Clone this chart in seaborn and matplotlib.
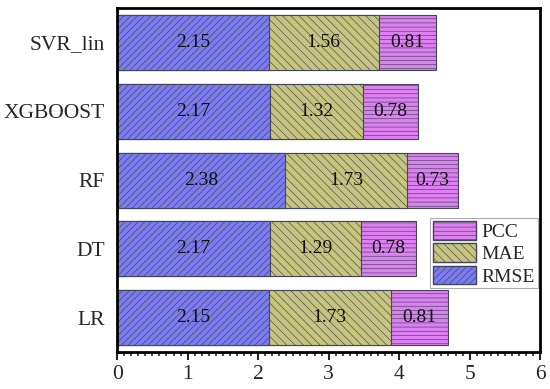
import numpy as np
import pandas as pd
import matplotlib
matplotlib.use("Agg")
import matplotlib.pyplot as plt
from matplotlib.patches import Patch
from matplotlib.ticker import MultipleLocator
import seaborn as sns

models = ["SVR_lin", "XGBOOST", "RF", "DT", "LR"]
rmse = [2.15, 2.17, 2.38, 2.17, 2.15]
mae = [1.56, 1.32, 1.73, 1.29, 1.73]
pcc = [0.81, 0.78, 0.73, 0.78, 0.81]

sns.set_theme(style="white")
plt.rcParams["font.family"] = ["Liberation Serif", "DejaVu Serif"]
plt.rcParams["hatch.linewidth"] = 0.45

df = pd.DataFrame({"model": models, "RMSE": rmse, "MAE": mae, "PCC": pcc})
df["c1"] = df["RMSE"]
df["c2"] = df["RMSE"] + df["MAE"]
df["c3"] = df["c2"] + df["PCC"]

fig, ax = plt.subplots(figsize=(5.5, 3.89), dpi=100)
fig.subplots_adjust(left=0.213, right=0.982, top=0.979, bottom=0.095)

col_rmse = "#7b7bf2"
col_mae = "#c6c47e"
col_pcc = "#dd80f2"
ec = "#45455a"

h_rmse = "/////"
h_mae = "\\\\\\\\"
h_pcc = "----"

sns.barplot(data=df, x="c3", y="model", order=models, orient="h", color=col_pcc,
            hatch=h_pcc, edgecolor=ec, linewidth=0.8, width=0.8, saturation=1, ax=ax)
sns.barplot(data=df, x="c2", y="model", order=models, orient="h", color=col_mae,
            hatch=h_mae, edgecolor=ec, linewidth=0.8, width=0.8, saturation=1, ax=ax)
sns.barplot(data=df, x="c1", y="model", order=models, orient="h", color=col_rmse,
            hatch=h_rmse, edgecolor=ec, linewidth=0.8, width=0.8, saturation=1, ax=ax)

fs = 14
for i, row in df.iterrows():
    ax.text(row["RMSE"] / 2, i, f"{row['RMSE']:.2f}", ha="center", va="center", fontsize=fs, color="#111111")
    ax.text(row["c1"] + row["MAE"] / 2, i, f"{row['MAE']:.2f}", ha="center", va="center", fontsize=fs, color="#111111")
    ax.text(row["c2"] + row["PCC"] / 2, i, f"{row['PCC']:.2f}", ha="center", va="center", fontsize=fs, color="#111111")

ax.set_xlim(0, 6)
ax.set_ylim(4.5, -0.5)
ax.set_xlabel("")
ax.set_ylabel("")
ax.xaxis.set_major_locator(MultipleLocator(1))
ax.xaxis.set_minor_locator(MultipleLocator(0.1))
ax.tick_params(axis="x", which="major", direction="out", length=6, width=1.5, labelsize=15.5, pad=3, bottom=True)
ax.tick_params(axis="x", which="minor", direction="out", length=3, width=1.2, bottom=True)
ax.tick_params(axis="y", length=0, labelsize=15.5, pad=9)
for s in ax.spines.values():
    s.set_visible(True)
    s.set_color("black")
    s.set_linewidth(2)

handles = [Patch(facecolor=col_pcc, edgecolor=ec, hatch=h_pcc, label="PCC"),
           Patch(facecolor=col_mae, edgecolor=ec, hatch=h_mae, label="MAE"),
           Patch(facecolor=col_rmse, edgecolor=ec, hatch=h_rmse, label="RMSE")]
leg = ax.legend(handles=handles, loc="lower right", bbox_to_anchor=(0.995, 0.185), fontsize=14,
                handlelength=2.2, handleheight=1.1, handletextpad=0.3, labelspacing=0.12,
                borderpad=0.15, borderaxespad=0.0, frameon=True, fancybox=False)
leg.get_frame().set_edgecolor("#999999")
leg.get_frame().set_linewidth(0.8)

fig.savefig("out.png", dpi=100)
